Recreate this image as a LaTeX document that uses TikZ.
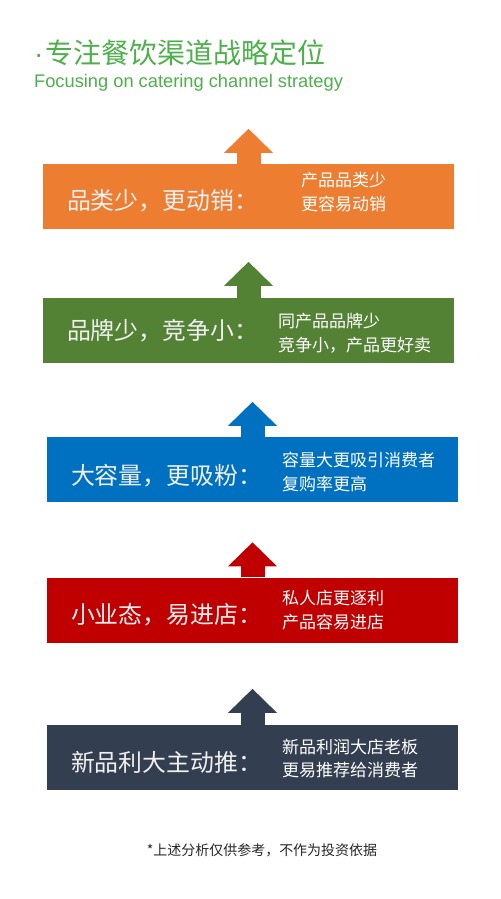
\documentclass[tikz,border=0pt]{standalone}
\usepackage{fontspec}
\setmainfont{Liberation Sans}
\newfontfamily\cjk{Noto Sans CJK SC}
\usetikzlibrary{arrows.meta,calc}

\definecolor{stageorange}{HTML}{ED7D31}
\definecolor{stagegreen}{HTML}{548235}
\definecolor{stageblue}{HTML}{0070C0}
\definecolor{stagered}{HTML}{C00000}
\definecolor{stageslate}{HTML}{333F50}
\definecolor{titlegreen}{HTML}{4DB04A}

\tikzset{
    stage/.style = {
        rectangle,
        inner sep      = 0pt,
        minimum width  = 20.55cm,
        minimum height = 3.25cm,
    },
    headline/.style = {
        anchor    = west,
        inner sep = 0pt,
        text      = white!94!black,
        font      = \cjk\fontsize{34pt}{40pt}\selectfont,
    },
    detail/.style = {
        anchor    = west,
        inner sep = 0pt,
        align     = left,
        text      = white,
        font      = \cjk\fontsize{24.2pt}{34pt}\selectfont,
    },
    lift/.style = {
        line width = 1.2cm,
        -{Triangle[length=1.2cm, width=2.45cm, line width=0pt]},
    },
}

\begin{document}
\begin{tikzpicture}[x=0.05cm, y=-0.05cm]
  % one unit is one pixel of the 500x899 page, y runs downwards
  \path[use as bounding box, fill=white] (0,0) rectangle (500,899);

  \node[anchor=west, inner sep=0pt, text=titlegreen,
        font=\cjk\fontsize{39.8pt}{44pt}\selectfont] (title) at (34,53)
    {{\rmfamily·}\hspace{3pt}专注餐饮渠道战略定位};
  \node[anchor=west, inner sep=0pt, text=titlegreen,
        font=\fontsize{26pt}{30pt}\selectfont] (subtitle) at (34,83)
    {Focusing on catering channel strategy};

  \node[stage, fill=stageorange] (s1) at (248.5,196.5) {};
  \coordinate (t1) at ($(s1.north)+(0,-35)$);
  \draw[lift, stageorange] (s1.north) -- (t1);
  \node[headline] (h1) at ($(s1.west)+(24,4)$) {品类少，更动销：};
  \node[detail] (d1) at ($(s1.west)+(258,-4)$) {产品品类少\\更容易动销};

  \node[stage, fill=stagegreen] (s2) at (248.5,330.5) {};
  \coordinate (t2) at ($(s2.north)+(0,-36)$);
  \draw[lift, stagegreen] (s2.north) -- (t2);
  \node[headline] (h2) at ($(s2.west)+(24,0)$) {品牌少，竞争小：};
  \node[detail] (d2) at ($(s2.west)+(235,3)$) {同产品品牌少\\竞争小，产品更好卖};

  \node[stage, fill=stageblue] (s3) at (252.5,469.5) {};
  \coordinate (t3) at ($(s3.north)+(0,-35)$);
  \draw[lift, stageblue] (s3.north) -- (t3);
  \node[headline] (h3) at ($(s3.west)+(24,6)$) {大容量，更吸粉：};
  \node[detail] (d3) at ($(s3.west)+(235,2.5)$) {容量大更吸引消费者\\复购率更高};

  \node[stage, fill=stagered] (s4) at (252.5,610) {};
  \coordinate (t4) at ($(s4.north)+(0,-35)$);
  \draw[lift, stagered] (s4.north) -- (t4);
  \node[headline] (h4) at ($(s4.west)+(24,5)$) {小业态，易进店：};
  \node[detail] (d4) at ($(s4.west)+(235,0.5)$) {私人店更逐利\\产品容易进店};

  \node[stage, fill=stageslate] (s5) at (252.5,757.5) {};
  \coordinate (t5) at ($(s5.north)+(0,-36)$);
  \draw[lift, stageslate] (s5.north) -- (t5);
  \node[headline] (h5) at ($(s5.west)+(24,4.5)$) {新品利大主动推：};
  \node[detail] (d5) at ($(s5.west)+(235,1)$) {新品利润大店老板\\更易推荐给消费者};

  \node[inner sep=0pt, text=black!85,
        font=\cjk\fontsize{19.9pt}{24pt}\selectfont] (note) at (262,850)
    {*上述分析仅供参考，不作为投资依据};
\end{tikzpicture}
\end{document}
